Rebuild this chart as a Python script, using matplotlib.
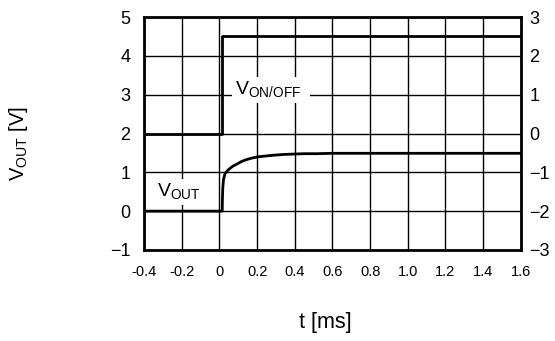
import numpy as np
import matplotlib
matplotlib.use("Agg")
import matplotlib.pyplot as plt

plt.rcParams['font.family'] = ['Liberation Sans Narrow', 'Liberation Sans', 'DejaVu Sans']
plt.rcParams['mathtext.fontset'] = 'custom'
plt.rcParams['mathtext.rm'] = 'Liberation Sans Narrow'

# step input V_ON/OFF (left axis units)
t_on = [-0.4, 0.015, 0.015, 1.6]
v_on = [2.0, 2.0, 4.5, 4.5]

# output voltage response
t_out = [-0.4, 0.015, 0.016, 0.018, 0.022, 0.030, 0.042, 0.056, 0.072, 0.092,
         0.118, 0.145, 0.175, 0.206, 0.245, 0.286, 0.34, 0.392, 0.45, 0.516, 0.6, 1.6]
v_out = [0.0, 0.0, 0.3, 0.6, 0.82, 0.97, 1.04, 1.10, 1.16, 1.21,
         1.28, 1.33, 1.37, 1.40, 1.42, 1.44, 1.46, 1.47, 1.48, 1.48, 1.49, 1.49]

x_ticks = [-0.4, -0.2, 0, 0.2, 0.4, 0.6, 0.8, 1.0, 1.2, 1.4, 1.6]
x_labels = ['-0.4', '-0.2', '0', '0.2', '0.4', '0.6', '0.8', '1.0', '1.2', '1.4', '1.6']
y_left = [-1, 0, 1, 2, 3, 4, 5]
y_right = [-3, -2, -1, 0, 1, 2, 3]

fig = plt.figure(figsize=(5.55, 3.41), dpi=100)
ax = fig.add_axes([0.2595, 0.267, 0.679, 0.683])

ax.plot(t_on, v_on, color='black', lw=2.0, zorder=3)
ax.plot(t_out, v_out, color='black', lw=2.0, zorder=3)

ax.set_xlim(-0.4, 1.6)
ax.set_ylim(-1, 5)
ax.set_xticks(x_ticks)
ax.set_xticklabels(x_labels, fontsize=10.5)
ax.set_yticks(y_left)
ax.set_yticklabels([str(v).replace('-', '\u2212') for v in y_left], fontsize=13)
ax.tick_params(length=0, pad=10)
ax.tick_params(axis='x', pad=11)
ax.grid(True, color='black', lw=1.0)

for s in ax.spines.values():
    s.set_linewidth(2.0)
    s.set_zorder(4)

ax2 = ax.twinx()
ax2.set_ylim(-3, 3)
ax2.set_yticks(y_right)
ax2.set_yticklabels([str(v).replace('-', '\u2212') for v in y_right], fontsize=13)
ax2.tick_params(length=0, pad=6)
for s in ax2.spines.values():
    s.set_visible(False)

ax.text(0.083, 3.0, 'V$_{\\mathregular{ON/OFF}}$  ', fontsize=14, va='baseline', ha='left',
        bbox=dict(facecolor='white', edgecolor='none', pad=2), zorder=2.5)
ax.text(-0.331, 0.36, 'V$_{\\mathregular{OUT}}$', fontsize=14, va='baseline', ha='left',
        bbox=dict(facecolor='white', edgecolor='none', pad=2), zorder=2.5)

fig.text(0.034, 0.578, 'V$_{\\mathregular{OUT}}$ [V]', rotation=90, fontsize=14.5,
         family=['Liberation Sans', 'DejaVu Sans'], ha='center', va='center')
fig.text(0.586, 0.053, 't [ms]', fontsize=15.5, ha='center', va='center')

fig.savefig('out.png', dpi=100)
